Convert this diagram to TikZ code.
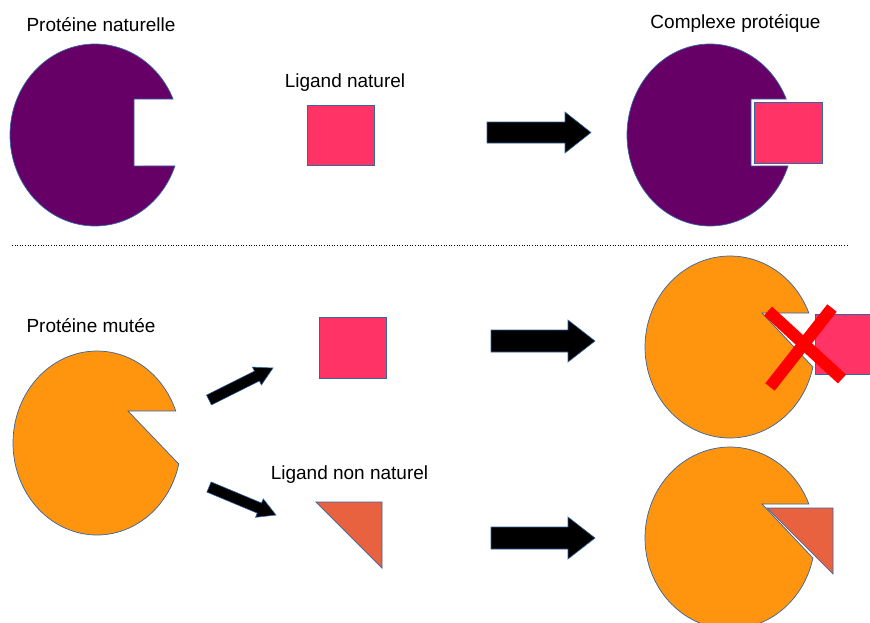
\documentclass[tikz,border=0pt]{standalone}
\usepackage{fontspec}
\setmainfont{Liberation Sans}
\usetikzlibrary{calc}
\definecolor{prot}{HTML}{660066}
\definecolor{mut}{HTML}{FF950E}
\definecolor{lig}{HTML}{FF3366}
\definecolor{tri}{HTML}{E8623F}
\definecolor{edge}{HTML}{3465A4}
\definecolor{cross}{HTML}{FF0000}
\tikzset{
  shapeline/.style={draw=edge, line width=0.7pt, line join=miter},
  lbl/.style={anchor=base, inner sep=0pt, font=\fontsize{19}{23}\selectfont},
  blockarr/.style={fill=black, draw=edge, line width=0.6pt, line join=miter},
  crossbar/.style={draw=cross, line width=12pt, line cap=butt},
}
\newcommand{\blockarrow}[5]{%
  \path ($(#2)!#5!(#1)$) coordinate (hb);
  \filldraw[blockarr] ($(#1)!#3!90:(#2)$) -- ($(hb)!#3!90:(#2)$) -- ($(hb)!#4!90:(#2)$) -- (#2)
    -- ($(hb)!#4!-90:(#2)$) -- ($(hb)!#3!-90:(#2)$) -- ($(#1)!#3!-90:(#2)$) -- cycle;}
\begin{document}
\begin{tikzpicture}[x=1pt,y=-1pt]
\clip (0,0) rectangle (870,622);
\fill[white] (0,0) rectangle (870,622);

% labels
\node[lbl] (t1) at (101,31) {Protéine naturelle};
\node[lbl] (t2) at (345,87) {Ligand naturel};
\node[lbl] (t3) at (735.5,28) {Complexe protéique};
\node[lbl] (t4) at (91,332) {Protéine mutée};
\node[lbl] (t5) at (349.5,479) {Ligand non naturel};

% natural protein
\filldraw[fill=prot, shapeline] (134,166) -- plot[domain=19.9:336.7, samples=120] ({95+85*cos(\x)},{135+91*sin(\x)}) -- (134,99) -- cycle;
% natural ligand
\filldraw[fill=lig, shapeline] (307,105) rectangle (374,165);
% complex
\filldraw[fill=prot, shapeline] (751,166) -- plot[domain=19.9:336.7, samples=120] ({710+83*cos(\x)},{135+91*sin(\x)}) -- (751,99) -- cycle;
\filldraw[fill=lig, shapeline] (754,102) rectangle (822,163);

% separator
\draw[dotted, line width=0.6pt] (12,245) -- (848,245);

% mutated protein
\filldraw[fill=mut, shapeline] (128,411) -- plot[domain=13.2:339.6, samples=120] ({97+84*cos(\x)},{443+92*sin(\x)}) -- cycle;
% ligands
\filldraw[fill=lig, shapeline] (319,317) rectangle (386,378);
\filldraw[fill=tri, shapeline] (316,502) -- (382,502) -- (382,568) -- cycle;

% results
\filldraw[fill=mut, shapeline] (762,313) -- plot[domain=12.7:338.1, samples=120] ({730+85*cos(\x)},{347+91*sin(\x)}) -- cycle;
\filldraw[fill=lig, shapeline] (815,314) rectangle (882,374);
\coordinate (x1a) at (768,311);
\coordinate (x1b) at (842,379);
\coordinate (x2a) at (832,308);
\coordinate (x2b) at (770,387);
\draw[crossbar] (x1a) -- (x1b);
\draw[crossbar] (x2a) -- (x2b);

\filldraw[fill=mut, shapeline] (762,504) -- plot[domain=12.7:338.1, samples=120] ({730+85*cos(\x)},{538+91*sin(\x)}) -- cycle;
\filldraw[fill=tri, shapeline] (767,508) -- (833,508) -- (833,574) -- cycle;

% arrows
\coordinate (a1s) at (487,132.5);
\coordinate (a1e) at (591,132.5);
\coordinate (a2s) at (491,341);
\coordinate (a2e) at (595,341);
\coordinate (a3s) at (491,538);
\coordinate (a3e) at (595,538);
\coordinate (d1s) at (209,400);
\coordinate (d1e) at (273,368);
\coordinate (d2s) at (209,487);
\coordinate (d2e) at (276,515);
\blockarrow{a1s}{a1e}{10.5pt}{20.5pt}{26pt}
\blockarrow{a2s}{a2e}{11pt}{21pt}{27pt}
\blockarrow{a3s}{a3e}{11pt}{21pt}{27pt}
\blockarrow{d1s}{d1e}{5.5pt}{10pt}{18pt}
\blockarrow{d2s}{d2e}{5.5pt}{10pt}{18pt}
\end{tikzpicture}
\end{document}
